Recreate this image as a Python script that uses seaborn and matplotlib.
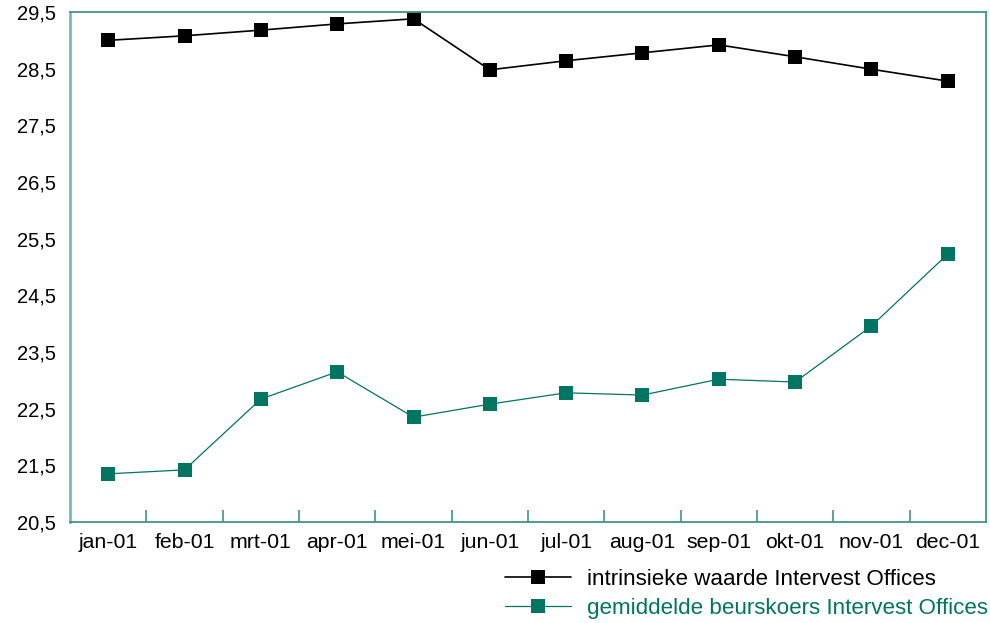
import matplotlib
matplotlib.use("Agg")
import matplotlib.pyplot as plt
from matplotlib.ticker import FixedLocator
import seaborn as sns
import pandas as pd
import numpy as np

# Monthly values for 2001
months = ["jan-01", "feb-01", "mrt-01", "apr-01", "mei-01", "jun-01",
          "jul-01", "aug-01", "sep-01", "okt-01", "nov-01", "dec-01"]
intrinsieke_waarde = [29.00, 29.08, 29.18, 29.29, 29.38, 28.48,
                      28.64, 28.78, 28.92, 28.71, 28.49, 28.28]
beurskoers = [21.35, 21.42, 22.67, 23.15, 22.35, 22.58,
              22.78, 22.74, 23.02, 22.97, 23.96, 25.23]
series_names = ["intrinsieke waarde Intervest Offices",
                "gemiddelde beurskoers Intervest Offices"]
y_ticks = [20.5, 21.5, 22.5, 23.5, 24.5, 25.5, 26.5, 27.5, 28.5, 29.5]

GREEN = "#007561"
SPINE = "#3f9585"
TICK = "#6db3a6"

sns.set_theme(style="white")
plt.rcParams["font.family"] = ["Liberation Sans", "DejaVu Sans"]

df = pd.DataFrame({
    "maand": months * 2,
    "waarde": intrinsieke_waarde + beurskoers,
    "reeks": [series_names[0]] * len(months) + [series_names[1]] * len(months),
})
df["x"] = list(range(len(months))) * 2

fig = plt.figure(figsize=(9.9, 6.23), dpi=100)
ax = fig.add_axes([70 / 990, 1 - 522 / 623, 916 / 990, 510 / 623])

styles = {series_names[0]: ("black", 1.2), series_names[1]: (GREEN, 0.9)}
for name in series_names:
    color, lw = styles[name]
    sub = df[df["reeks"] == name]
    sns.lineplot(data=sub, x="x", y="waarde", ax=ax, color=color, linewidth=lw,
                 marker="s", markersize=9.5, markeredgewidth=0,
                 markerfacecolor=color, label=name, legend=False)

ax.set_xlim(-0.5, len(months) - 0.5)
ax.set_ylim(y_ticks[0], y_ticks[-1])
ax.set_xlabel("")
ax.set_ylabel("")

ax.xaxis.set_major_locator(FixedLocator(range(len(months))))
ax.set_xticklabels(months)
ax.xaxis.set_minor_locator(FixedLocator(np.arange(0.5, len(months) - 0.5, 1.0)))
ax.tick_params(axis="x", which="major", length=0, pad=8, labelsize=15.3,
               labelcolor="black")
ax.tick_params(axis="x", which="minor", direction="in", length=9, width=1.2,
               color=SPINE, bottom=True)

ax.set_yticks(y_ticks)
ax.set_yticklabels([f"{v:.1f}".replace(".", ",") for v in y_ticks])
ax.tick_params(axis="y", direction="in", length=16, width=1.5, color=TICK,
               pad=10, labelsize=14.5, labelcolor="black")

for side in ["left", "right", "top", "bottom"]:
    ax.spines[side].set_visible(True)
    ax.spines[side].set_linewidth(1.3)
    ax.spines[side].set_color(SPINE)
ax.spines["left"].set_color(TICK)
ax.spines["left"].set_linewidth(1.8)

handles, labels = ax.get_legend_handles_labels()
leg = fig.legend(handles, labels, loc="lower left",
                 bbox_to_anchor=(501 / 990, 0.0), frameon=False,
                 fontsize=16.1, handlelength=2.95, handletextpad=0.7,
                 labelspacing=0.33, borderaxespad=0.0, borderpad=0.2)
leg.get_texts()[0].set_color("black")
leg.get_texts()[1].set_color(GREEN)

fig.savefig("out.png", dpi=100)
